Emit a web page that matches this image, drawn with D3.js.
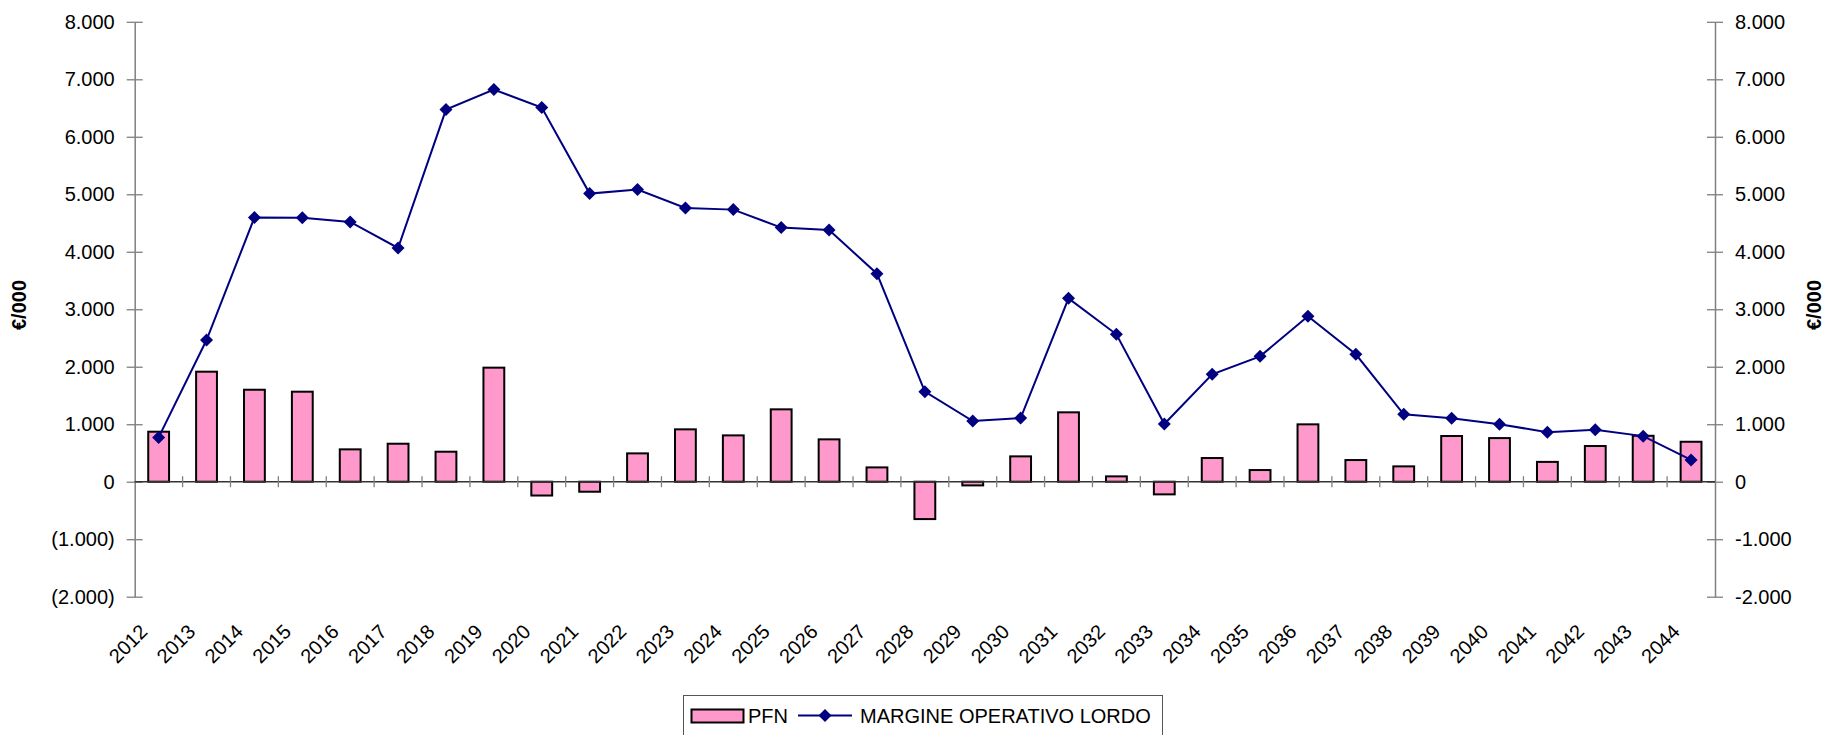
<!DOCTYPE html>
<html><head><meta charset="utf-8">
<script src="https://cdn.jsdelivr.net/npm/d3@7"></script>
<style>
html,body{margin:0;padding:0;background:#fff;}
svg{display:block;font-family:"Liberation Sans",Arial,sans-serif;}
</style></head>
<body><svg id="c" width="1829" height="735"></svg>
<script>
const years = ["2012","2013","2014","2015","2016","2017","2018","2019","2020","2021","2022","2023","2024","2025","2026","2027","2028","2029","2030","2031","2032","2033","2034","2035","2036","2037","2038","2039","2040","2041","2042","2043","2044"];
const pfn = [870,1914,1600,1566,563,661,522,1984,-240,-174,493,911,806,1259,737,249,-650,-64,441,1207,93,-220,412,203,998,377,267,795,759,345,621,799,695];
const mol = [771,2465,4594,4590,4519,4066,6473,6821,6508,5012,5081,4762,4733,4420,4379,3619,1566,1056,1108,3190,2564,1003,1868,2181,2877,2216,1172,1103,1000,862,902,793,379];
const yTicks = [-2000,-1000,0,1000,2000,3000,4000,5000,6000,7000,8000];
const seriesNames = ["PFN","MARGINE OPERATIVO LORDO"];
const axisTitle = "€/000";

const svg = d3.select("#c");
const L = 134.7, R = 1715, T = 21.8, B = 596.7;
const x = d3.scaleBand().domain(years).range([L, R]).paddingInner(0.565).paddingOuter(0.2825);
const y = d3.scaleLinear().domain([-2000, 8000]).range([B, T]);
const loc = d3.formatLocale({decimal:",", thousands:".", grouping:[3], currency:["€",""]});
const f = loc.format(",d");
const fmtLeft = v => v < 0 ? "(" + f(-v) + ")" : f(v);
const fmtRight = v => v < 0 ? "-" + f(-v) : f(v);
const axisCol = "#808080";

// Left axis
const gl = svg.append("g").attr("transform", `translate(${L},0)`)
  .call(d3.axisLeft(y).tickValues(yTicks).tickFormat(fmtLeft).tickSizeInner(8).tickSizeOuter(0).tickPadding(12));
gl.select(".domain").attr("stroke", axisCol).attr("stroke-width", 1.5);
gl.selectAll(".tick line").attr("x1", 8).attr("x2", -8).attr("stroke", axisCol).attr("stroke-width", 1.3);
gl.selectAll(".tick text").attr("font-size", 20).attr("fill", "#000").attr("font-family", "Liberation Sans, Arial, sans-serif");

// Right axis
const gr = svg.append("g").attr("transform", `translate(${R},0)`)
  .call(d3.axisRight(y).tickValues(yTicks).tickFormat(fmtRight).tickSizeInner(8).tickSizeOuter(0).tickPadding(12));
gr.select(".domain").attr("stroke", axisCol).attr("stroke-width", 1.5);
gr.selectAll(".tick line").attr("x1", -8).attr("x2", 8).attr("stroke", axisCol).attr("stroke-width", 1.3);
gr.selectAll(".tick text").attr("font-size", 20).attr("fill", "#000").attr("font-family", "Liberation Sans, Arial, sans-serif");

// Bars
svg.append("g").selectAll("rect").data(years).join("rect")
  .attr("x", d => x(d))
  .attr("width", x.bandwidth())
  .attr("y", (d,i) => y(Math.max(0, pfn[i])))
  .attr("height", (d,i) => Math.abs(y(pfn[i]) - y(0)))
  .attr("fill", "#FF99CC").attr("stroke", "#000").attr("stroke-width", 2);

// Zero axis line + category ticks
const step = x.step();
const y0 = y(0);
svg.append("line").attr("x1", L).attr("x2", R).attr("y1", y0).attr("y2", y0)
  .attr("stroke", "#333").attr("stroke-width", 1.5);
svg.append("g").selectAll("line").data(d3.range(1, years.length)).join("line")
  .attr("x1", i => L + i*step).attr("x2", i => L + i*step)
  .attr("y1", y0 - 5.5).attr("y2", y0 + 5.5)
  .attr("stroke", axisCol).attr("stroke-width", 1.3);

// X labels
svg.append("g").selectAll("text").data(years).join("text")
  .attr("transform", d => `translate(${x(d) + x.bandwidth()/2 - 10},${633}) rotate(-45)`)
  .attr("text-anchor", "end").attr("font-size", 20).attr("fill", "#000")
  .text(d => d);

// Line
const cx = d => x(d) + x.bandwidth()/2;
const line = d3.line().x((d,i) => cx(years[i])).y(d => y(d));
svg.append("path").datum(mol).attr("d", line)
  .attr("fill", "none").attr("stroke", "#000080").attr("stroke-width", 2);
const diamond = "M0,-6.5L6.5,0L0,6.5L-6.5,0Z";
svg.append("g").selectAll("path").data(mol).join("path")
  .attr("d", diamond)
  .attr("transform", (d,i) => `translate(${cx(years[i])},${y(d)})`)
  .attr("fill", "#000080");

// Axis titles
svg.append("text").attr("transform", "translate(26,305) rotate(-90)")
  .attr("text-anchor", "middle").attr("font-size", 20).attr("font-weight", "bold").text(axisTitle);
svg.append("text").attr("transform", "translate(1821,305) rotate(-90)")
  .attr("text-anchor", "middle").attr("font-size", 20).attr("font-weight", "bold").text(axisTitle);

// Legend
const lg = svg.append("g");
lg.append("rect").attr("x", 683.5).attr("y", 695.5).attr("width", 479).attr("height", 45)
  .attr("fill", "#fff").attr("stroke", "#555").attr("stroke-width", 1);
lg.append("rect").attr("x", 691.5).attr("y", 709.5).attr("width", 52).attr("height", 13)
  .attr("fill", "#FF99CC").attr("stroke", "#000").attr("stroke-width", 2);
lg.append("text").attr("x", 748).attr("y", 723).attr("font-size", 20).text(seriesNames[0]);
lg.append("line").attr("x1", 798).attr("x2", 852).attr("y1", 715.5).attr("y2", 715.5)
  .attr("stroke", "#000080").attr("stroke-width", 2);
lg.append("path").attr("d", diamond).attr("transform", "translate(825,715.5)").attr("fill", "#000080");
lg.append("text").attr("x", 860).attr("y", 723).attr("font-size", 20).text(seriesNames[1]);
</script>
</body></html>
